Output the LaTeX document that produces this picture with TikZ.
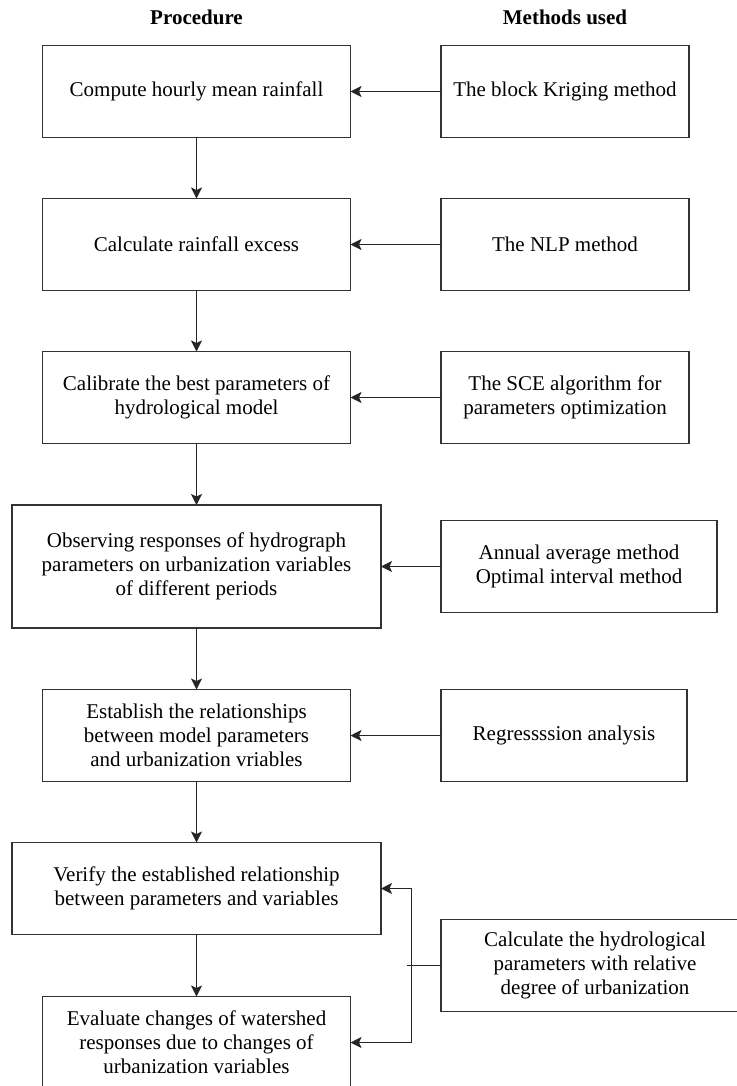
\documentclass[tikz,border=0pt]{standalone}
\usepackage{fontspec}
\setmainfont{Liberation Serif}
\usetikzlibrary{arrows.meta}
\begin{document}
\begin{tikzpicture}[x=1pt,y=-1pt,
  box/.style={draw=black!80, line width=1.5pt, inner sep=0pt, outer sep=0pt, align=center, font=\fontsize{21}{24}\selectfont},
  pbox/.style={box, minimum width=308pt, minimum height=92pt},
  mbox/.style={box, minimum width=248pt, minimum height=92pt},
  wbox/.style={box, minimum width=369pt},
  head/.style={font=\bfseries\fontsize{21}{24}\selectfont},
  conn/.style={draw=black!85, line width=1.5pt},
  arr/.style={conn, -{Stealth[length=11pt,width=11pt,inset=2.5pt]}}]
\useasboundingbox (0,0) rectangle (736,1086);
\node[head] (hp) at (196.5,17) {Procedure};
\node[head] (hm) at (565,17) {Methods used};

\node[pbox] (p1) at (196.5,91.5) {Compute hourly mean rainfall};
\node[mbox] (m1) at (565,91.5) {The block Kriging method};

\node[pbox] (p2) at (196.5,244.5) {Calculate rainfall excess};
\node[mbox] (m2) at (565,244.5) {The NLP method};

\node[pbox] (p3) at (196.5,397.5) {Calibrate the best parameters of\\hydrological model};
\node[mbox] (m3) at (565,397.5) {The SCE algorithm for\\parameters optimization};

\node[wbox, minimum height=123pt] (p4) at (196.5,566.5) {Observing responses of hydrograph\\parameters on urbanization variables\\of different periods};
\node[box, minimum width=276pt, minimum height=92pt] (m4) at (579,566.5) {Annual average method\\Optimal interval method};

\node[pbox] (p5) at (196.5,735.5) {Establish the relationships\\between model parameters\\and urbanization vriables};
\node[box, minimum width=246pt, minimum height=92pt] (m5) at (564,735.5) {Regressssion analysis};

\node[wbox, minimum height=92pt] (p6) at (196.5,888.5) {Verify the established relationship\\between parameters and variables};
\node[box, minimum width=308pt, minimum height=92pt] (m6) at (595,965.5) {Calculate the hydrological\\parameters with relative\\degree of urbanization};

\node[pbox] (p7) at (196.5,1042.5) {Evaluate changes of watershed\\responses due to changes of\\urbanization variables};

\draw[arr] (p1.south) -- (p2.north);
\draw[arr] (p2.south) -- (p3.north);
\draw[arr] (p3.south) -- (p4.north);
\draw[arr] (p4.south) -- (p5.north);
\draw[arr] (p5.south) -- (p6.north);
\draw[arr] (p6.south) -- (p7.north);

\draw[arr] (m1.west) -- (p1.east);
\draw[arr] (m2.west) -- (p2.east);
\draw[arr] (m3.west) -- (p3.east);
\draw[arr] (m4.west) -- (p4.east);
\draw[arr] (m5.west) -- (p5.east);

\coordinate (j) at (411.5,965.5);
\coordinate (js) at (407,965.5);
\draw[conn] (m6.west) -- (js);
\draw[arr] (j) |- (p6.east);
\draw[arr] (j) |- (p7.east);
\end{tikzpicture}
\end{document}
